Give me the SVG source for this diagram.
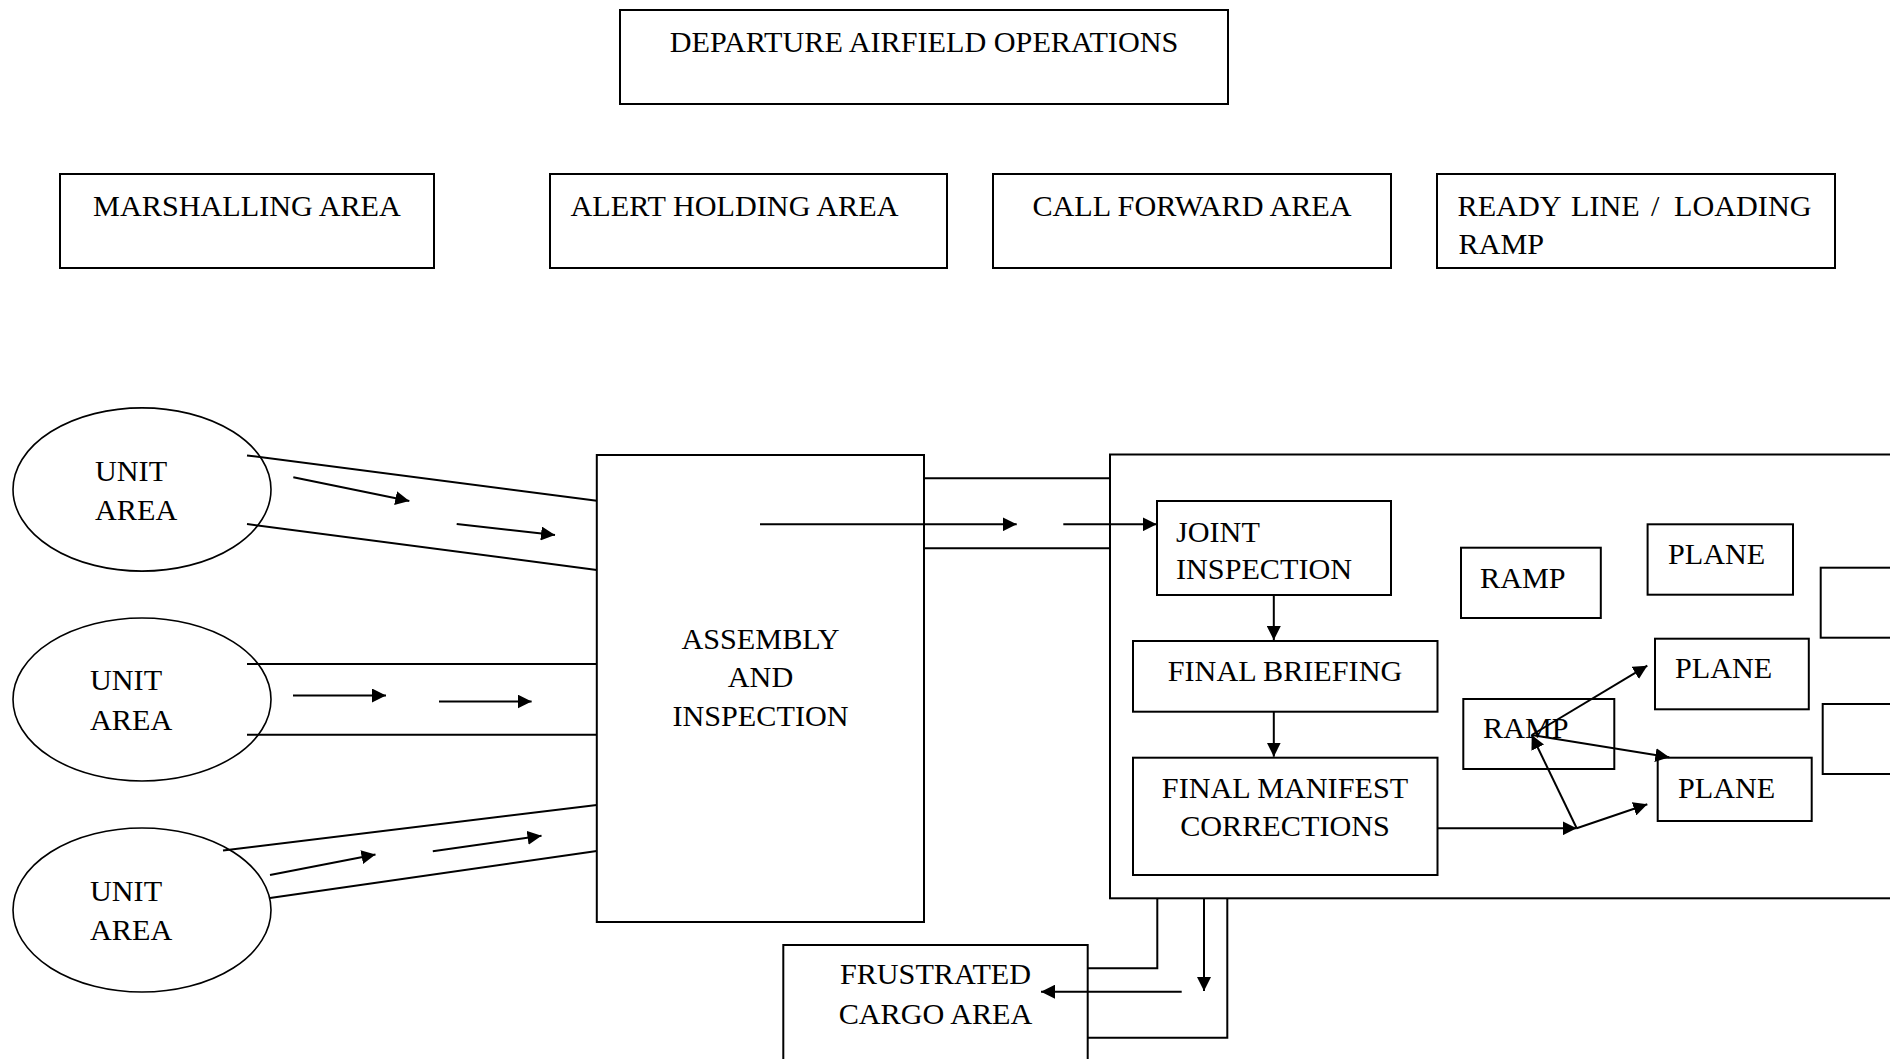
<svg xmlns="http://www.w3.org/2000/svg" width="1890" height="1059" viewBox="0 0 1890 1059">
  <defs>
    <style>
      .box { fill: #fff; stroke: #000; stroke-width: 2; }
      .oval { fill: #fff; stroke: #000; stroke-width: 1.6; }
      .ln { fill: none; stroke: #000; stroke-width: 2; }
      .arr { fill: none; stroke: #000; stroke-width: 2; marker-end: url(#head); }
      text { font-family: "Liberation Serif", "Times New Roman", serif; font-size: 30.2px; fill: #000; }
      .mid { text-anchor: middle; }
    </style>
    <marker id="head" markerUnits="userSpaceOnUse" markerWidth="15" markerHeight="14" refX="14" refY="7" orient="auto">
      <path d="M0,0 L14,7 L0,14 z" fill="#000"/>
    </marker>
  </defs>

  <rect width="1890" height="1059" fill="#fff"/>

  <!-- top header row -->
  <g id="departure-airfield-operations">
    <rect class="box" x="620" y="10" width="608" height="94"/>
    <text class="mid" x="924" y="52">DEPARTURE AIRFIELD OPERATIONS</text>
  </g>
  <g id="marshalling-area">
    <rect class="box" x="60" y="174" width="374" height="94"/>
    <text class="mid" x="247" y="215.7">MARSHALLING AREA</text>
  </g>
  <g id="alert-holding-area">
    <rect class="box" x="550" y="174" width="397" height="94"/>
    <text x="570.5" y="215.7">ALERT HOLDING AREA</text>
  </g>
  <g id="call-forward-area">
    <rect class="box" x="993" y="174" width="398" height="94"/>
    <text class="mid" x="1192" y="215.7">CALL FORWARD AREA</text>
  </g>
  <g id="ready-line-loading-ramp">
    <rect class="box" x="1437" y="174" width="398" height="94"/>
    <text y="215.7"><tspan x="1457.5">READY</tspan><tspan x="1571">LINE</tspan><tspan x="1651">/</tspan><tspan x="1674">LOADING</tspan></text>
    <text x="1458.5" y="254">RAMP</text>
  </g>

  <!-- unit areas -->
  <g id="unit-area-1">
    <ellipse class="oval" cx="142" cy="489.5" rx="129" ry="81.6"/>
    <text x="95" y="481">UNIT</text>
    <text x="95" y="520">AREA</text>
  </g>
  <g id="unit-area-2">
    <ellipse class="oval" cx="142" cy="699.5" rx="129" ry="81.5"/>
    <text x="90" y="690">UNIT</text>
    <text x="90" y="730">AREA</text>
  </g>
  <g id="unit-area-3">
    <ellipse class="oval" cx="142" cy="910" rx="129" ry="82"/>
    <text x="90" y="900.7">UNIT</text>
    <text x="90" y="940">AREA</text>
  </g>

  <!-- assembly -->
  <g id="assembly-and-inspection">
    <rect class="box" x="596.8" y="455" width="327.2" height="467"/>
    <text class="mid" x="760.5" y="649">ASSEMBLY</text>
    <text class="mid" x="760.5" y="687">AND</text>
    <text class="mid" x="760.5" y="726">INSPECTION</text>
  </g>

  <!-- loading area enclosure (runs past the right edge) -->
  <g id="loading-area">
    <rect class="box" x="1110" y="454.5" width="800" height="443.8"/>
  </g>

  <g id="joint-inspection">
    <rect class="box" x="1157" y="501" width="234" height="94"/>
    <text x="1176" y="541.7">JOINT</text>
    <text x="1176" y="579.3">INSPECTION</text>
  </g>
  <g id="final-briefing">
    <rect class="box" x="1133" y="641" width="304.5" height="70.7"/>
    <text class="mid" x="1285" y="680.7">FINAL BRIEFING</text>
  </g>
  <g id="final-manifest-corrections">
    <rect class="box" x="1133" y="757.7" width="304.5" height="117.3"/>
    <text class="mid" x="1285" y="798.3">FINAL MANIFEST</text>
    <text class="mid" x="1285" y="836">CORRECTIONS</text>
  </g>
  <g id="ramp-1">
    <rect class="box" x="1461" y="547.7" width="139.8" height="70.3"/>
    <text x="1480" y="587.7">RAMP</text>
  </g>
  <g id="plane-1">
    <rect class="box" x="1647.6" y="524.3" width="145.4" height="70.4"/>
    <text x="1668" y="564.3">PLANE</text>
  </g>
  <g id="slot-1">
    <rect class="box" x="1820.7" y="567.7" width="90" height="70"/>
  </g>
  <g id="plane-2">
    <rect class="box" x="1655" y="638.7" width="153.8" height="70.6"/>
    <text x="1675" y="678.3">PLANE</text>
  </g>
  <g id="ramp-2">
    <rect class="box" x="1463.3" y="699" width="151" height="70"/>
    <text x="1483" y="738.3">RAMP</text>
  </g>
  <g id="slot-2">
    <rect class="box" x="1822.7" y="704" width="90" height="70"/>
  </g>
  <g id="plane-3">
    <rect class="box" x="1657.7" y="757.7" width="154" height="63.3"/>
    <text x="1678" y="798.3">PLANE</text>
  </g>

  <g id="frustrated-cargo-area">
    <rect class="box" x="783.3" y="945" width="304.4" height="130"/>
    <text class="mid" x="935.5" y="984.3">FRUSTRATED</text>
    <text class="mid" x="935.5" y="1024">CARGO AREA</text>
  </g>

  <!-- connectors -->
  <g id="connectors">
    <!-- lanes from unit areas into assembly -->
    <line class="ln" x1="247" y1="455.4" x2="596.8" y2="500.7"/>
    <line class="ln" x1="247" y1="524" x2="596.8" y2="570"/>
    <line class="arr" x1="293.3" y1="477.3" x2="409.3" y2="501"/>
    <line class="arr" x1="456.7" y1="524" x2="555" y2="535"/>

    <line class="ln" x1="247" y1="664" x2="596.8" y2="664"/>
    <line class="ln" x1="247" y1="734.7" x2="596.8" y2="734.7"/>
    <line class="arr" x1="293" y1="695.5" x2="386" y2="695.5"/>
    <line class="arr" x1="439" y1="701.5" x2="531.6" y2="701.5"/>

    <line class="ln" x1="223" y1="850.5" x2="596.8" y2="805"/>
    <line class="ln" x1="270" y1="898" x2="596.8" y2="851"/>
    <line class="arr" x1="270" y1="875" x2="375.5" y2="854.4"/>
    <line class="arr" x1="432.8" y1="851.3" x2="541.5" y2="835.8"/>

    <!-- assembly to loading area -->
    <line class="ln" x1="924" y1="478.3" x2="1110" y2="478.3"/>
    <line class="ln" x1="924" y1="548.3" x2="1110" y2="548.3"/>
    <line class="arr" x1="760" y1="524.3" x2="1016.7" y2="524.3"/>
    <line class="arr" x1="1063.3" y1="524.3" x2="1156.7" y2="524.3"/>

    <!-- inspection sequence -->
    <line class="arr" x1="1273.8" y1="595" x2="1273.8" y2="640"/>
    <line class="arr" x1="1273.8" y1="711.7" x2="1273.8" y2="756.7"/>
    <line class="arr" x1="1437.5" y1="828.3" x2="1576.7" y2="828.3"/>
    <line class="arr" x1="1576.7" y1="828.3" x2="1531.7" y2="735"/>
    <line class="arr" x1="1576.7" y1="828.3" x2="1647.3" y2="804.3"/>
    <line class="arr" x1="1531.7" y1="735" x2="1647.3" y2="665.7"/>
    <line class="arr" x1="1531.7" y1="735" x2="1669.3" y2="757.3"/>

    <!-- loading area to frustrated cargo -->
    <path class="ln" d="M1157.3,898.3 V968.3 H1087.7"/>
    <path class="ln" d="M1227.3,898.3 V1037.7 H1087.7"/>
    <line class="arr" x1="1204" y1="898.3" x2="1204" y2="991"/>
    <line class="arr" x1="1181.7" y1="991.7" x2="1041" y2="991.7"/>
  </g>
</svg>
